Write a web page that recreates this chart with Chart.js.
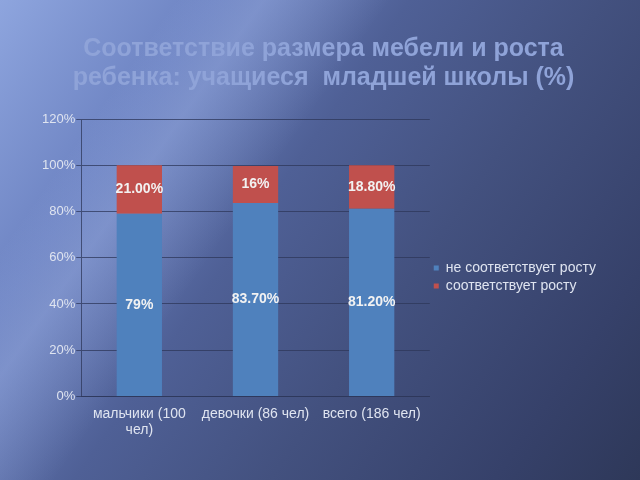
<!DOCTYPE html>
<html>
<head>
<meta charset="utf-8">
<script src="https://cdn.jsdelivr.net/npm/chart.js@4.4.0/dist/chart.umd.min.js"></script>
<style>
  html, body { margin: 0; padding: 0; }
  body {
    width: 640px; height: 480px; overflow: hidden;
    background:
      linear-gradient(125deg, rgba(255,255,255,0) 18%, rgba(170,190,240,0.35) 27%, rgba(255,255,255,0) 40%),
      linear-gradient(125deg, #8ea5de 0%, #6d83c2 22%, #4f6096 42%, #43517f 62%, #36416a 85%, #2e3859 100%);
  }
  #wrap { width: 640px; height: 480px; }
</style>
</head>
<body>
<div id="wrap"><canvas id="chart"></canvas></div>
<script>
const categories = [['мальчики (100', 'чел)'], 'девочки (86 чел)', 'всего (186 чел)'];
const notFitting = [79, 83.7, 81.2];
const fitting = [21, 16, 18.8];
const notFittingLabels = ['79%', '83.70%', '81.20%'];
const fittingLabels = ['21.00%', '16%', '18.80%'];
const seriesNames = ['не соответствует росту', 'соответствует росту'];

const fontFamily = '"Liberation Sans", Arial, sans-serif';
const axisColor = 'rgba(45, 55, 90, 0.75)';
const textColor = '#dfe4f0';

// values written in the middle of each segment
const barLabels = {
  id: 'barLabels',
  afterDatasetsDraw(chart) {
    const ctx = chart.ctx;
    const texts = [notFittingLabels, fittingLabels];
    ctx.save();
    ctx.font = 'bold 14px ' + fontFamily;
    ctx.fillStyle = '#f2f2f2';
    ctx.textAlign = 'center';
    ctx.textBaseline = 'middle';
    chart.data.datasets.forEach((ds, i) => {
      chart.getDatasetMeta(i).data.forEach((bar, j) => {
        ctx.fillText(texts[i][j], bar.x, (bar.y + bar.base) / 2);
      });
    });
    ctx.restore();
  }
};

new Chart(document.getElementById('chart').getContext('2d'), {
  type: 'bar',
  data: {
    labels: categories,
    datasets: [{
      label: seriesNames[0],
      data: notFitting,
      backgroundColor: '#4f81bd'
    }, {
      label: seriesNames[1],
      data: fitting,
      backgroundColor: '#c0504d'
    }]
  },
  options: {
    responsive: true,
    maintainAspectRatio: false,
    animation: false,
    layout: {
      padding: { left: 41, right: 34, bottom: 40 }
    },
    datasets: {
      bar: { barPercentage: 0.39, categoryPercentage: 1 }
    },
    scales: {
      x: {
        stacked: true,
        grid: { display: false },
        border: { display: true, color: axisColor },
        ticks: {
          color: textColor,
          font: { size: 14, family: fontFamily, lineHeight: 1.2 },
          maxRotation: 0,
          padding: 1
        }
      },
      y: {
        stacked: true,
        min: 0,
        max: 120,
        grid: { color: axisColor, tickLength: 5 },
        border: { display: true, color: axisColor },
        ticks: {
          stepSize: 20,
          color: textColor,
          padding: 1,
          font: { size: 13, family: fontFamily },
          callback: v => v + '%'
        }
      }
    },
    plugins: {
      title: {
        display: true,
        text: ['Соответствие размера мебели и роста', 'ребенка: учащиеся  младшей школы (%)'],
        color: '#8fa3d8',
        font: { size: 25, weight: 'bold', family: fontFamily, lineHeight: 1.16 },
        padding: { top: 35, bottom: 26 }
      },
      legend: {
        position: 'right',
        maxWidth: 220,
        title: { display: true, text: '', padding: { top: 102, bottom: 0 }, font: { size: 10, lineHeight: 1.2 } },
        labels: {
          color: textColor,
          boxWidth: 5,
          boxHeight: 5,
          padding: 4,
          font: { size: 14, family: fontFamily, lineHeight: 1 }
        }
      },
      tooltip: { enabled: false }
    }
  },
  plugins: [barLabels]
});
</script>
</body>
</html>
